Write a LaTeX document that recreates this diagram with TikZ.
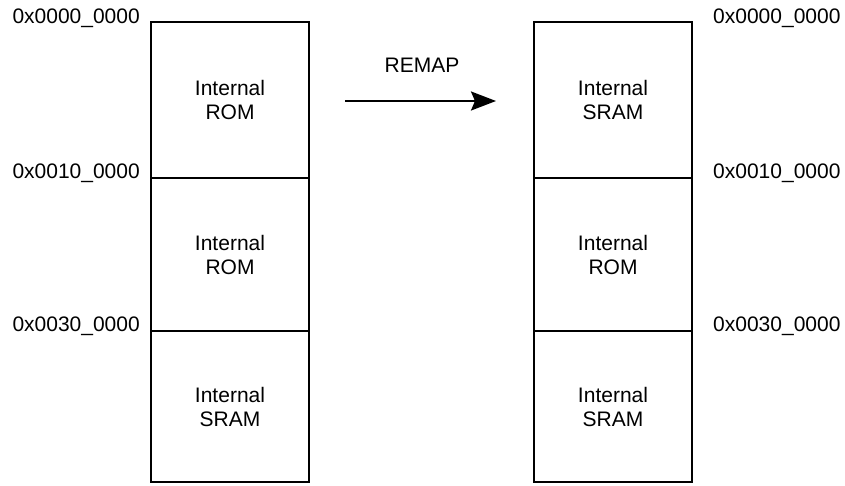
\documentclass[tikz,border=0pt]{standalone}
\usepackage{fontspec}
\setmainfont{Liberation Sans}
\usetikzlibrary{arrows.meta}
\begin{document}
\begin{tikzpicture}[x=1pt,y=-1pt,
  cell/.style={draw, line width=2.5pt, minimum width=158pt, align=center,
    font=\fontsize{21}{24}\selectfont, inner sep=0pt, outer sep=0pt},
  addr/.style={font=\fontsize{21}{24}\selectfont, inner sep=0pt},
  remaparrow/.style={line width=2.2pt, -{Stealth[length=25pt,width=19pt,inset=4pt]}}]
\useasboundingbox (0,0) rectangle (845,485);
% left column
\node[cell, minimum height=156pt] (L1) at (230,100) {Internal\\ROM};
\node[cell, minimum height=153pt] (L2) at (230,254.5) {Internal\\ROM};
\node[cell, minimum height=151pt] (L3) at (230,406.5) {Internal\\SRAM};
% right column
\node[cell, minimum height=156pt] (R1) at (613,100) {Internal\\SRAM};
\node[cell, minimum height=153pt] (R2) at (613,254.5) {Internal\\ROM};
\node[cell, minimum height=151pt] (R3) at (613,406.5) {Internal\\SRAM};
% address labels
\node[addr, anchor=base east] (la1) at (140,23) {0x0000\_0000};
\node[addr, anchor=base east] (la2) at (140,178) {0x0010\_0000};
\node[addr, anchor=base east] (la3) at (140,331) {0x0030\_0000};
\node[addr, anchor=base west] (ra1) at (713,23) {0x0000\_0000};
\node[addr, anchor=base west] (ra2) at (713,178) {0x0010\_0000};
\node[addr, anchor=base west] (ra3) at (713,331) {0x0030\_0000};
% remap arrow
\coordinate (a1) at (345,101);
\coordinate (a2) at (496,101);
\draw[remaparrow] (a1) -- (a2);
\node[addr, anchor=base] (remap) at (422,72) {REMAP};
\end{tikzpicture}
\end{document}
